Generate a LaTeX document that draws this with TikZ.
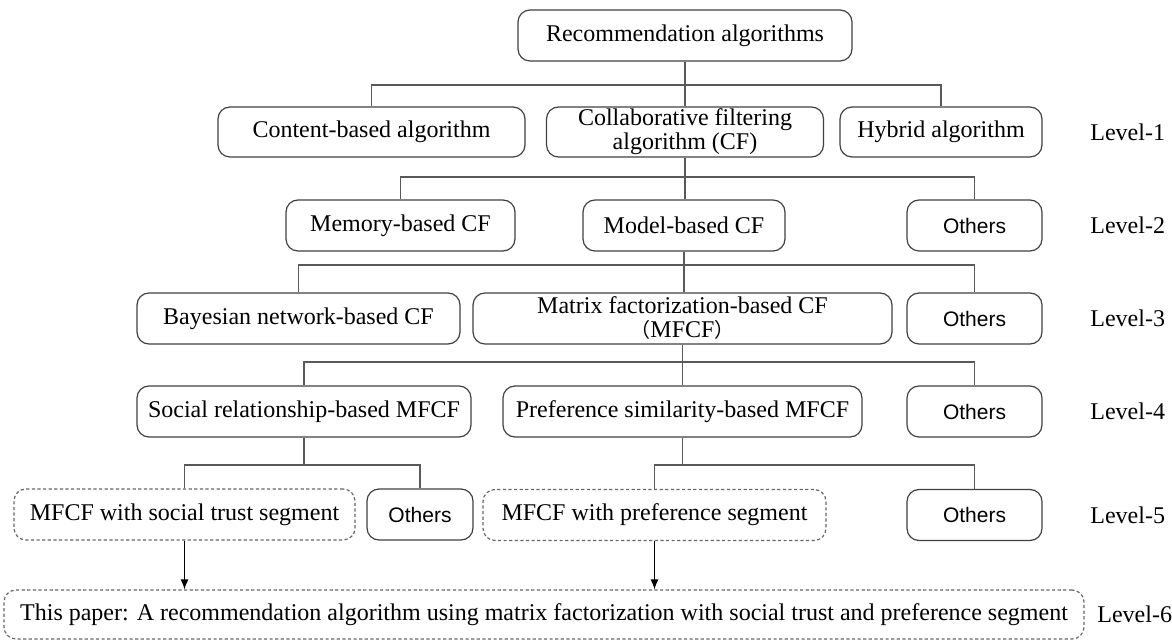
\documentclass[tikz,border=0pt]{standalone}
\usepackage{fontspec}
\setmainfont{Liberation Serif}
\newfontfamily\arialf{Liberation Sans}
\newfontfamily\cjkf{Noto Sans CJK SC}
\usetikzlibrary{arrows.meta}
\begin{document}
\begin{tikzpicture}[x=0.5pt,y=-0.5pt,
  box/.style={draw=black!75, line width=0.6pt, rounded corners=6pt, inner sep=0pt, align=center,
    font=\fontsize{12}{10.5}\selectfont, minimum height=25pt},
  dbox/.style={box, draw=black!60, dash pattern=on 1.6pt off 1.2pt},
  obox/.style={box, minimum width=67.5pt, font=\arialf\fontsize{10.5}{12}\selectfont},
  lvl/.style={anchor=west, inner sep=0pt, font=\fontsize{12}{14}\selectfont},
  conn/.style={draw=black!65, line width=0.6pt},
  arr/.style={conn, draw=black, -{Latex[length=5pt,width=4pt]}}]
\useasboundingbox (0,0) rectangle (1172,640);
% nodes
\node[box, minimum width=167pt, minimum height=25.5pt] (root) at (685,35.5) {Recommendation algorithms};
\node[box, minimum width=153.5pt] (content) at (371.5,132) {Content-based algorithm};
\node[box, minimum width=138.5pt] (cf) at (685,132) {Collaborative filtering\\algorithm (CF)};
\node[box, minimum width=101pt] (hybrid) at (941,132) {Hybrid algorithm};
\node[box, minimum width=114.5pt, minimum height=25.5pt] (memory) at (400.5,225.5) {Memory-based CF};
\node[box, minimum width=101pt, minimum height=25.5pt] (model) at (684,225.5) {Model-based CF};
\node[obox, minimum height=25.5pt] (oth2) at (974.5,225.5) {Others};
\node[box, minimum width=209.5pt, minimum height=25.5pt, font=\fontsize{12}{12}\selectfont] (matrix) at (682.5,318.5) {Matrix factorization-based CF\\{\cjkf\fontsize{10}{10}\selectfont （}MFCF{\cjkf\fontsize{10}{10}\selectfont ）}};
\node[box, minimum width=161.5pt, minimum height=25.5pt] (bayes) at (298.5,318.5) {Bayesian network-based CF};
\node[obox, minimum height=25.5pt] (oth3) at (974.5,318.5) {Others};
\node[box, minimum width=167pt, minimum height=25.5pt] (social) at (304,411.5) {Social relationship-based MFCF};
\node[box, minimum width=179.5pt, minimum height=25.5pt] (pref) at (682.5,411.5) {Preference similarity-based MFCF};
\node[obox, minimum height=25.5pt] (oth4) at (974.5,411.5) {Others};
\node[dbox, minimum width=170.5pt, minimum height=25.5pt] (trust) at (184.5,514.5) {MFCF with social trust segment};
\node[obox, minimum width=53pt, minimum height=25.5pt] (oth5a) at (420,514.5) {Others};
\node[dbox, minimum width=171.5pt, minimum height=25.5pt] (mpref) at (654.5,515) {MFCF with preference segment};
\node[obox, minimum height=25.5pt] (oth5b) at (974.5,515) {Others};
\node[dbox, minimum width=540pt, minimum height=24.5pt] (paper) at (544,614.5) {This paper: A recommendation algorithm using matrix factorization with social trust and preference segment};
% level labels
\node[lvl] (l1) at (1090,132) {Level-1};
\node[lvl] (l2) at (1090,225.5) {Level-2};
\node[lvl] (l3) at (1090,318.5) {Level-3};
\node[lvl] (l4) at (1090,411.5) {Level-4};
\node[lvl] (l5) at (1090,515) {Level-5};
\node[lvl] (l6) at (1097,614.5) {Level-6};
% connectors
\draw[conn] (root.south) -- (root.south |- cf.north);
\draw[conn] (content.north) |- (hybrid.north |- 0,85) -- (hybrid.north);
\draw[conn] (cf.south) -- (cf.south |- model.north);
\draw[conn] (memory.north) |- (oth2.north |- 0,177) -- (oth2.north);
\draw[conn] (model.south) -- (model.south |- matrix.north);
\draw[conn] (bayes.north) |- (oth3.north |- 0,265) -- (oth3.north);
\draw[conn] (matrix.south) -- (matrix.south |- pref.north);
\draw[conn] (social.north) |- (oth4.north |- 0,362) -- (oth4.north);
\draw[conn] (social.south) -- (social.south |- 0,465);
\draw[conn] (trust.north) |- (oth5a.north |- 0,465) -- (oth5a.north);
\draw[conn] (pref.south) -- (pref.south |- 0,465);
\draw[conn] (mpref.north) |- (oth5b.north |- 0,465) -- (oth5b.north);
\draw[arr] (trust.south) -- (trust.south |- paper.north);
\draw[arr] (mpref.south) -- (mpref.south |- paper.north);
\end{tikzpicture}
\end{document}
